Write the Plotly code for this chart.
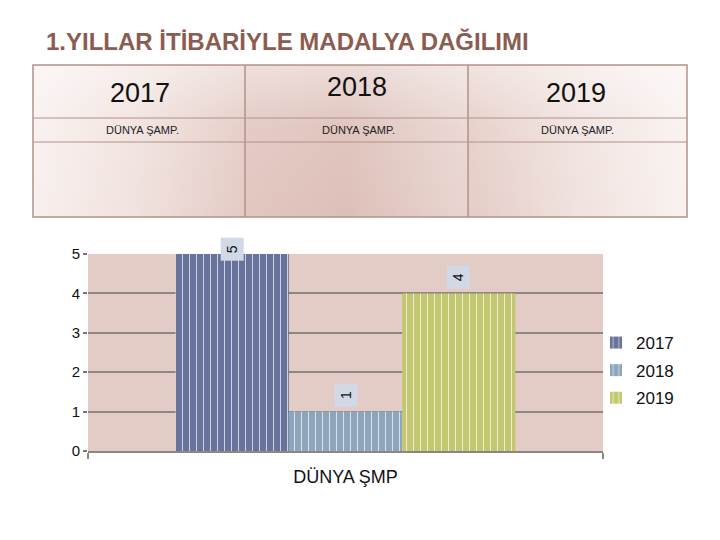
import plotly.graph_objects as go

# ---- data ----
categories = ["DÜNYA ŞMP"]
series_names = ["2017", "2018", "2019"]
series_values = [[5], [1], [4]]
series_colors = ["#67739A", "#8DA6BB", "#C3C870"]
y_ticks = [0, 1, 2, 3, 4, 5]
table_years = ["2017", "2018", "2019"]
table_sub = ["DÜNYA ŞAMP.", "DÜNYA ŞAMP.", "DÜNYA ŞAMP."]
title_text = "1.YILLAR İTİBARİYLE MADALYA DAĞILIMI"

W, H = 720, 540
def px(x):
    return x / W
def py(y):
    return 1 - y / H

# plot area in pixels
PL, PR, PT, PB = 88, 603, 254, 451
bargap = 0.34
FONT = "Liberation Sans, Arial"

fig = go.Figure()

for name, vals, col in zip(series_names, series_values, series_colors):
    fig.add_trace(go.Bar(
        x=categories, y=vals, name=name, legendgroup=name,
        marker=dict(color=col, line=dict(width=0),
                    pattern=dict(shape="|", fgcolor="white", fgopacity=0.75,
                                 size=7, solidity=0.13)),
        xaxis="x", yaxis="y",
    ))

# ---- table decoration on a full-page overlay axis (pixel units) ----
TL, TR, TT, TB = 33, 687, 65, 217
cols = [TL, 245, 468, TR]
rows = [TT, 118, 142, TB]
grads = [
    dict(type="horizontal", colorscale=[[0, "#F8F0EE"], [0.5, "#F0E1DD"], [1, "#E4CAC4"]]),
    dict(type="horizontal", colorscale=[[0, "#E2C6C0"], [0.45, "#DDBFB8"], [1, "#E9D5D0"]]),
    dict(type="horizontal", colorscale=[[0, "#E5CCC6"], [0.5, "#F0E2DE"], [1, "#F9F2F0"]]),
]
for i in range(3):
    x0, x1 = cols[i], cols[i + 1]
    fig.add_trace(go.Scatter(
        x=[x0, x1, x1, x0, x0], y=[TT, TT, TB, TB, TT],
        fill="toself", fillgradient=grads[i], mode="lines",
        line=dict(width=0), showlegend=False, hoverinfo="skip",
        xaxis="x2", yaxis="y2",
    ))
# light overlay: top of the table lighter than the bottom
fig.add_trace(go.Scatter(
    x=[TL, TR, TR, TL, TL], y=[TT, TT, TB, TB, TT],
    fill="toself", mode="lines", line=dict(width=0),
    fillgradient=dict(type="vertical",
                      colorscale=[[0, "rgba(255,255,255,0)"], [0.6, "rgba(255,255,255,0.1)"],
                                  [1, "rgba(255,255,255,0.45)"]]),
    showlegend=False, hoverinfo="skip", xaxis="x2", yaxis="y2",
))

shapes = []
shapes.append(dict(type="rect", xref="x domain", yref="y domain", x0=0, x1=1, y0=0, y1=1,
                   fillcolor="#E4CCC6", line=dict(width=0), layer="below"))
bc = "#B3918A"
shapes.append(dict(type="rect", xref="paper", yref="paper", x0=px(TL), x1=px(TR),
                   y0=py(TB), y1=py(TT), line=dict(color=bc, width=1.5)))
for xc in cols[1:-1]:
    shapes.append(dict(type="line", xref="paper", yref="paper", x0=px(xc), x1=px(xc),
                       y0=py(TB), y1=py(TT), line=dict(color=bc, width=1.5)))
for yr in rows[1:-1]:
    shapes.append(dict(type="line", xref="paper", yref="paper", x0=px(TL), x1=px(TR),
                       y0=py(yr), y1=py(yr), line=dict(color=bc, width=1.2)))

annotations = []
annotations.append(dict(text="<b>" + title_text + "</b>", xref="paper", yref="paper", x=px(44), y=py(42),
                        xanchor="left", yanchor="middle", showarrow=False,
                        font=dict(family=FONT, size=24, color="#8C5C51")))
year_y = [93, 87, 93]
year_dx = [1, 0, -2]
for i in range(3):
    cx = (cols[i] + cols[i + 1]) / 2 + year_dx[i]
    annotations.append(dict(text=table_years[i], xref="paper", yref="paper", x=px(cx), y=py(year_y[i]),
                            xanchor="center", yanchor="middle", showarrow=False,
                            font=dict(family=FONT, size=27, color="#111111")))
    annotations.append(dict(text=table_sub[i], xref="paper", yref="paper", x=px(cx + 2),
                            y=py(130), xanchor="center", yanchor="middle", showarrow=False,
                            font=dict(family=FONT, size=11, color="#222222")))

# value labels above bars
n = len(series_names)
bar_w = (PR - PL) * (1 - bargap) / n
yshifts = [-7, 4, 4]
for i, (name, vals) in enumerate(zip(series_names, series_values)):
    annotations.append(dict(text=str(vals[0]), xref="x", yref="y", x=categories[0], y=vals[0],
                            xshift=(i - (n - 1) / 2) * bar_w, yshift=yshifts[i],
                            yanchor="bottom", showarrow=False, textangle=-90,
                            bgcolor="#D3D8E6", borderpad=4, width=14, height=14,
                            font=dict(family=FONT, size=14, color="#111111")))

fig.update_layout(
    width=W, height=H,
    margin=dict(l=0, r=0, t=0, b=0, autoexpand=False),
    paper_bgcolor="white", plot_bgcolor="rgba(0,0,0,0)",
    barmode="group", bargap=bargap, bargroupgap=0,
    font=dict(family=FONT, color="#111111"),
    xaxis=dict(domain=[px(PL), px(PR)], anchor="y", showgrid=False, automargin=False,
               showline=True, linecolor="#8E8685", linewidth=2,
               ticks="outside", tickson="boundaries", ticklen=6, tickcolor="#8E8685", tickwidth=1.5,
               ticklabelstandoff=8,
               tickfont=dict(size=18, color="#111111")),
    yaxis=dict(domain=[py(PB), py(PT)], anchor="x", range=[0, 5], tickvals=y_ticks, automargin=False,
               showgrid=True, gridcolor="#8E8685", gridwidth=2, zeroline=False,
               ticks="outside", ticklen=4, tickcolor="#777777", tickwidth=1.5,
               tickfont=dict(size=15, color="#111111"), showline=False),
    xaxis2=dict(domain=[0, 1], anchor="y2", range=[0, W], visible=False, fixedrange=True),
    yaxis2=dict(domain=[0, 1], anchor="x2", range=[H, 0], visible=False, fixedrange=True),
    legend=dict(x=px(596), y=py(325), xanchor="left", yanchor="top",
                font=dict(size=17, color="#111111"), tracegroupgap=2.5,
                itemwidth=30, bgcolor="rgba(0,0,0,0)"),
    shapes=shapes, annotations=annotations,
    showlegend=True,
)

fig.write_html("out.html")
